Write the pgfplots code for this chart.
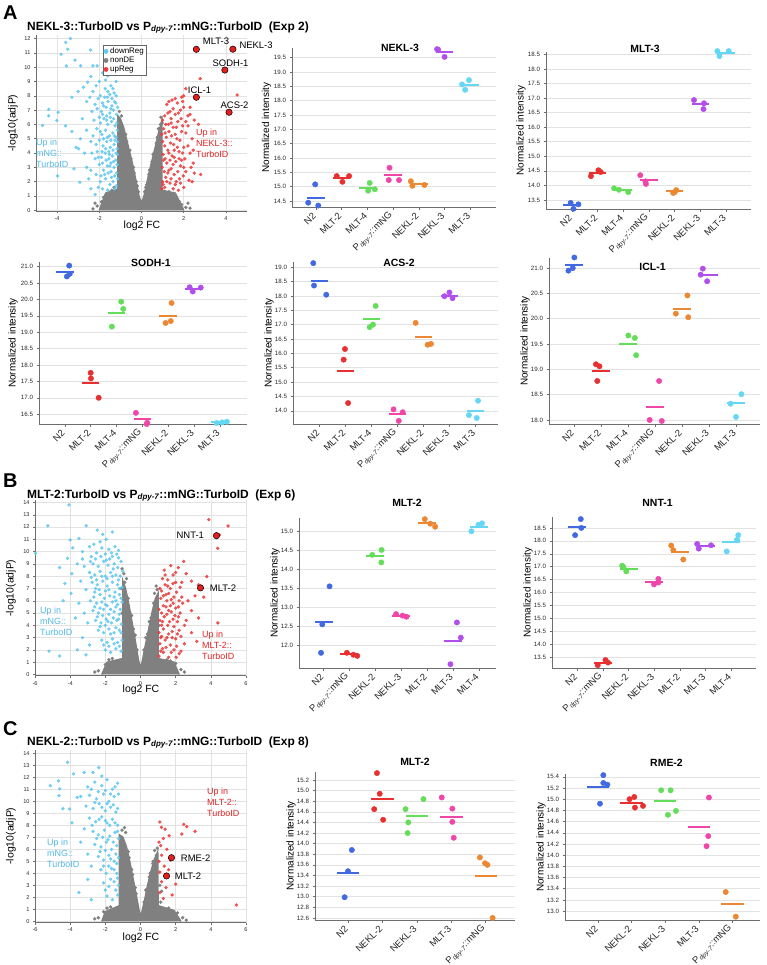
\documentclass[border=0pt]{standalone}
\usepackage{pgfplots}
\pgfplotsset{compat=1.18}
\usepackage{fontspec}
\setmainfont{Liberation Sans}
\definecolor{c1}{RGB}{65,105,225}
\definecolor{c2}{RGB}{232,48,48}
\definecolor{c3}{RGB}{100,222,90}
\definecolor{c4}{RGB}{240,70,170}
\definecolor{c5}{RGB}{236,135,50}
\definecolor{c6}{RGB}{178,78,236}
\definecolor{c7}{RGB}{100,215,245}
\definecolor{vblue}{RGB}{95,200,240}
\definecolor{vred}{RGB}{236,60,60}
\definecolor{vgray}{RGB}{128,128,128}
\definecolor{tblue}{RGB}{80,185,230}
\definecolor{tred}{RGB}{225,35,35}
\definecolor{hred}{RGB}{230,30,30}
\definecolor{gridc}{RGB}{226,226,226}
\definecolor{axc}{RGB}{110,110,110}
\newcommand{\Pdpy}{P\textsubscript{\itshape dpy-7}::mNG}
\def\mhw{8.7bp}
\newcommand{\grp}[4]{%
  \addplot[#1, only marks, mark=*, mark size=2.7bp] coordinates {#4};
  \addplot[#1, only marks, mark=-, mark size=\mhw, mark options={line width=2bp}] coordinates {(#2,#3)};}
\pgfplotsset{
  base/.style={scale only axis, anchor=south west, axis x line*=bottom, axis y line*=left,
    tick align=outside, major tick length=2.5bp, tick style={draw=axc, line width=0.5bp},
    axis line style={draw=axc, line width=0.6bp}, major grid style={draw=gridc, line width=0.5bp},
    /pgf/number format/assume math mode=true, ticklabel style={text=black!85}},
  dotax/.style={base, ymajorgrids, clip=false,
    yticklabel style={font=\fontsize{6.2}{7}\selectfont, /pgf/number format/fixed, /pgf/number format/fixed zerofill, /pgf/number format/precision=1},
    xtick={0,...,6}, xticklabel style={font=\fontsize{9.5}{10}\selectfont, rotate=45, anchor=east, xshift=-1bp, yshift=-2bp}},
  volax/.style={base, grid=major, clip mode=individual, ticklabel style={font=\fontsize{5.6}{6}\selectfont}, major tick length=2bp},
  vb/.style={only marks, mark=*, mark size=1.5bp, color=vblue, opacity=0.85, forget plot},
  vr/.style={only marks, mark=*, mark size=1.5bp, color=vred, opacity=0.85, forget plot},
  vg/.style={only marks, mark=*, mark size=1.5bp, color=vgray, forget plot},
  vpoly/.style={fill=vgray, draw=vgray, line width=1.5bp, forget plot},
  hl/.style={only marks, mark=*, mark size=3.2bp, mark options={fill=hred, draw=black, line width=0.5bp}, forget plot},
}
\begin{document}
\begin{tikzpicture}[x=1bp,y=1bp]
\useasboundingbox (0,0) rectangle (767,-965);
% ================= PANEL A =================
\begin{axis}[volax, at={(36bp,-211bp)}, width=211bp, height=176bp, xmin=-5, xmax=5, ymin=-0.05, ymax=12.25,
  xtick={-4,-2,0,2,4}, ytick={0,...,12},
  legend style={at={(0.318,0.943)}, anchor=north west, draw=black!60, line width=0.4bp, font=\fontsize{8}{9}\selectfont, inner sep=0.5bp, row sep=-2bp, cells={anchor=west}}, legend cell align=left]
\addplot[vpoly] coordinates {(-2.0,0.0) (-1.7,1.2) (-1.12,1.5) (-1.12,6.6) (-1.0,6.4) (-0.85,5.8) (-0.65,4.6) (-0.45,3.4) (-0.28,2.2) (-0.12,1.0) (0,0.5) (0.12,1.0) (0.28,2.1) (0.45,3.2) (0.65,4.4) (0.82,5.5) (0.97,6.3) (0.97,1.4) (1.6,1.2) (2.0,0.0)};
\addplot[vg] coordinates {(-1.05,6.9) (-0.95,6.6) (-0.75,5.3) (-0.55,4.2) (-0.38,3.0) (-0.2,1.7) (0.2,1.6) (0.38,2.8) (0.55,3.9) (0.75,5.1) (0.9,6.0) (-2.1,0.3) (-1.9,0.6) (-1.6,1.0) (1.7,0.8) (1.9,0.4) (2.1,0.2) (-1.4,1.4) (1.3,1.3) (-2.3,0.1) (2.3,0.15) (-0.05,0.2) (0.05,0.3)
(-1.1,6.2) (-1.0,5.6) (-0.9,5.0) (-0.7,4.8) (-0.6,3.9) (-0.5,3.6) (-0.35,2.6) (-0.25,2.0) (-0.15,1.3) (0.15,1.3) (0.25,1.8) (0.35,2.5) (0.5,3.4) (0.6,4.0) (0.7,4.7) (0.8,5.7) (0.92,6.5) (-1.8,0.9) (-2.2,0.5) (1.8,0.6) (2.2,0.5) (1.5,1.0) (-1.3,1.6) (1.1,1.3) (0.98,6.1)};
\addplot[vb] coordinates {(-3.37,12.0) (-3.59,11.73) (-3.5,11.25) (-2.41,11.2) (-3.81,10.9) (-3.15,10.5) (-3.56,10.09) (-2.88,10.1) (-2.3,10.1) (-2.1,10.1) (-2.4,9.35) (-2.55,8.95) (-1.85,9.6) (-1.7,9.1) (-2.0,9.0) (-1.2,9.0) (-1.45,8.7) (-2.75,8.6) (-3.0,8.3) (-3.3,7.9) (-2.6,7.6) (-3.95,6.85) (-4.01,6.27) (-4.69,5.94) (-4.4,7.05) (-4.4,6.6) (-3.6,5.9) (-3.3,5.5) (-2.8,6.4) (-2.9,5.0) (-3.1,4.4) (-2.98,4.3) (-3.98,2.4) (-2.92,1.96) (-2.6,3.0) (-2.4,4.8) (-2.35,6.9) (-2.5,2.2) (-3.2,2.9) (-2.2,1.1) (-2.4,1.5)
(-1.2,1.7) (-1.35,2.0) (-1.5,1.8) (-1.7,2.2) (-1.95,2.0) (-2.15,2.5) (-1.18,2.6) (-1.3,3.0) (-1.45,2.7) (-1.62,3.1) (-1.8,2.8) (-2.0,3.2) (-1.22,3.5) (-1.38,3.8) (-1.55,3.6) (-1.72,4.0) (-1.9,3.7) (-2.1,4.1) (-1.16,4.3) (-1.3,4.6) (-1.48,4.4) (-1.65,4.8) (-1.82,4.5) (-2.0,4.9) (-1.2,5.1) (-1.36,5.4) (-1.52,5.2) (-1.7,5.6) (-1.88,5.3) (-2.12,5.7) (-1.25,5.9) (-1.42,6.2) (-1.6,6.0) (-1.78,6.4) (-1.95,6.1) (-1.18,6.7) (-1.33,7.0) (-1.5,6.8) (-1.68,7.2) (-1.9,6.9) (-1.22,7.5) (-1.4,7.8) (-1.58,7.6) (-1.75,7.9) (-1.3,8.2) (-1.6,8.3) (-2.2,7.4) (-2.25,6.3) (-2.2,3.6) (-1.14,3.9) (-1.45,3.3) (-1.25,4.9) (-1.55,4.1) (-1.15,5.6) (-1.65,6.6) (-1.4,7.3) (-1.85,7.5) (-2.05,7.8) (-1.95,8.0) (-1.85,1.5) (-1.6,1.4) (-1.28,1.5) (-2.05,1.6)
(-1.13,2.2) (-1.27,2.4) (-1.42,2.3) (-1.58,2.6) (-1.75,2.5) (-1.92,2.4) (-1.15,3.2) (-1.33,3.4) (-1.5,3.1) (-1.68,3.5) (-1.85,3.3) (-2.05,3.7) (-1.2,4.0) (-1.35,4.2) (-1.52,3.9) (-1.7,4.3) (-1.87,4.1) (-2.15,4.6) (-1.14,4.8) (-1.28,5.2) (-1.45,4.9) (-1.62,5.1) (-1.8,5.0) (-1.95,5.5) (-1.17,6.1) (-1.32,6.4) (-1.48,6.5) (-1.65,6.3) (-1.85,6.7) (-2.0,6.5) (-1.13,7.2) (-1.28,7.6) (-1.45,7.1) (-1.62,7.9) (-1.8,7.3) (-2.1,7.1) (-1.2,8.0) (-1.5,8.1) (-1.72,8.5) (-1.35,8.5) (-2.3,5.2) (-2.35,4.0) (-2.4,2.8) (-2.45,7.9) (-2.6,5.6) (-2.7,4.0) (-2.3,8.3) (-2.15,8.7) (-1.6,9.4) (-1.35,9.5)};
\addplot[vr] coordinates {(2.78,9.2) (4.53,8.06) (2.1,8.5) (2.0,8.0) (1.9,7.9) (2.3,7.2) (2.3,6.7) (2.5,6.3) (2.7,6.0) (2.45,4.2) (2.8,2.5) (2.4,2.0) (0.97,1.5) (1.1,1.6) (1.5,1.5) (1.75,1.4) (2.0,1.6) (1.0,2.0) (1.15,2.3) (1.35,1.9) (1.55,2.5) (1.8,2.2) (2.1,2.7) (0.98,3.0) (1.2,3.3) (1.4,2.9) (1.62,3.4) (1.85,3.1) (2.05,3.6) (1.02,3.9) (1.25,4.2) (1.45,3.8) (1.7,4.4) (1.95,4.0) (2.2,4.5) (1.0,4.8) (1.18,5.1) (1.38,4.7) (1.6,5.3) (1.82,4.9) (2.1,5.4) (1.05,5.7) (1.28,6.0) (1.5,5.8) (1.72,6.2) (1.95,5.9) (1.1,6.6) (1.35,6.9) (1.6,6.7) (1.85,7.0) (1.2,7.4) (1.45,7.7) (1.7,7.5) (2.2,6.6) (2.35,3.0) (2.4,5.0) (1.0,6.3) (1.3,5.5) (1.55,4.2) (1.12,3.6) (1.9,3.5) (1.65,2.0) (2.25,2.1) (1.4,6.4) (0.96,5.3) (1.25,2.6)
(1.02,1.8) (1.2,2.0) (1.4,2.2) (1.6,1.8) (1.85,1.9) (1.08,2.7) (1.3,2.8) (1.5,3.2) (1.72,2.7) (1.98,2.4) (1.05,3.5) (1.35,3.5) (1.55,3.7) (1.78,3.6) (2.0,3.0) (1.1,4.5) (1.3,4.0) (1.52,4.6) (1.78,4.1) (2.0,4.4) (1.12,5.4) (1.42,5.2) (1.68,5.0) (1.9,5.5) (2.2,5.9) (1.15,6.0) (1.4,6.1) (1.65,5.8) (1.88,6.4) (2.1,6.2) (1.25,6.8) (1.5,7.1) (1.75,6.8) (2.0,7.2) (1.3,7.6) (1.6,7.8) (1.95,7.6) (2.3,4.0) (2.45,3.3) (2.5,2.6)};
\addplot[hl] coordinates {(2.6,11.25) (4.33,11.26) (3.95,9.8) (2.6,7.9) (4.15,6.85)};
\addlegendimage{only marks, mark=*, mark size=2.2bp, color=vblue}\addlegendentry{downReg}
\addlegendimage{only marks, mark=*, mark size=2.2bp, color=vgray}\addlegendentry{nonDE}
\addlegendimage{only marks, mark=*, mark size=2.2bp, color=vred}\addlegendentry{upReg}
\begin{scope}[font=\fontsize{9.5}{10}\selectfont]
\node at (axis cs:3.53,11.82) {MLT-3};
\node at (axis cs:5.43,11.54) {NEKL-3};
\node at (axis cs:4.22,10.28) {SODH-1};
\node at (axis cs:2.75,8.39) {ICL-1};
\node at (axis cs:4.41,7.34) {ACS-2};
\end{scope}
\end{axis}

\def\mhw{8.7bp}
\begin{axis}[dotax, at={(292bp,-207bp)}, width=204bp, height=159bp, xmin=-0.93, xmax=7.0, ymin=14.29, ymax=19.84,
  ytick={14.5,15,15.5,16,16.5,17,17.5,18,18.5,19,19.5}, xticklabels={N2,MLT-2,MLT-4,\Pdpy,NEKL-2,NEKL-3,MLT-3}]
\grp{c1}{0}{14.62}{(-0.3,14.44) (-0.03,15.08) (0.09,14.34)}
\grp{c2}{1}{15.31}{(0.81,15.37) (1.03,15.17) (1.29,15.37)}
\grp{c3}{2}{14.97}{(2.09,15.13) (2.03,14.86) (2.29,14.91)}
\grp{c4}{3}{15.40}{(2.86,15.66) (2.83,15.23) (3.23,15.23)}
\grp{c5}{4}{15.08}{(3.69,15.19) (3.75,15.03) (4.22,15.06)}
\grp{c6}{5}{19.71}{(4.71,19.80) (4.75,19.78) (5.0,19.53)}
\grp{c7}{6}{18.56}{(5.68,18.57) (5.95,18.72) (5.8,18.38)}
\end{axis}

\begin{axis}[dotax, at={(546bp,-209bp)}, width=205bp, height=157bp, xmin=-1.01, xmax=6.97, ymin=13.19, ymax=18.58,
  ytick={13.5,14,14.5,15,15.5,16,16.5,17,17.5,18,18.5}, xticklabels={N2,MLT-2,MLT-4,\Pdpy,NEKL-2,NEKL-3,MLT-3}]
\grp{c1}{0}{13.33}{(-0.05,13.40) (0.06,13.20) (0.25,13.35)}
\grp{c2}{1}{14.44}{(0.74,14.32) (1.03,14.52) (1.12,14.46)}
\grp{c3}{2}{13.84}{(1.64,13.90) (1.83,13.85) (2.19,13.77)}
\grp{c4}{3}{14.19}{(2.66,14.35) (2.86,14.14) (2.88,14.05)}
\grp{c5}{4}{13.80}{(3.94,13.74) (4.06,13.84) (4.0,13.77)}
\grp{c6}{5}{16.80}{(4.75,16.93) (5.14,16.82) (5.12,16.62)}
\grp{c7}{6}{18.55}{(5.66,18.61) (5.74,18.44) (6.1,18.61)}
\end{axis}

\begin{axis}[dotax, at={(39bp,-424bp)}, width=208bp, height=162bp, xmin=-1.0, xmax=7.05, ymin=16.2, ymax=21.14,
  ytick={16.5,17,17.5,18,18.5,19,19.5,20,20.5,21}, xticklabels={N2,MLT-2,MLT-4,\Pdpy,NEKL-2,NEKL-3,MLT-3}]
\grp{c1}{0}{20.85}{(0.17,21.03) (0.08,20.70) (0.19,20.78)}
\grp{c2}{1}{17.45}{(1.0,17.76) (1.01,17.59) (1.31,17.0)}
\grp{c3}{2}{19.60}{(2.18,19.93) (2.26,19.71) (1.82,19.17)}
\grp{c4}{3}{16.35}{(2.75,16.54) (3.19,16.24) (3.17,16.2)}
\grp{c5}{4}{19.50}{(4.13,19.89) (3.9,19.28) (4.1,19.34)}
\grp{c6}{5}{20.32}{(4.83,20.37) (4.95,20.24) (5.26,20.36)}
\grp{c7}{6}{16.25}{(5.88,16.23) (6.08,16.25) (6.27,16.27)}
\end{axis}

\begin{axis}[dotax, at={(293bp,-424bp)}, width=205bp, height=162bp, xmin=-1.02, xmax=6.87, ymin=13.54, ymax=19.18,
  ytick={14,14.5,15,15.5,16,16.5,17,17.5,18,18.5,19}, xticklabels={N2,MLT-2,MLT-4,\Pdpy,NEKL-2,NEKL-3,MLT-3}]
\grp{c1}{0}{18.52}{(-0.24,19.14) (-0.21,18.36) (0.26,18.04)}
\grp{c2}{1}{15.39}{(0.98,16.15) (0.93,15.78) (1.1,14.27)}
\grp{c3}{2}{17.20}{(2.16,17.65) (2.06,17.0) (1.93,16.91)}
\grp{c4}{3}{13.88}{(2.85,14.05) (3.2,13.95) (3.05,13.65)}
\grp{c5}{4}{16.58}{(3.7,17.06) (4.16,16.30) (4.29,16.33)}
\grp{c6}{5}{18.00}{(4.81,17.99) (5.0,18.12) (5.12,17.92)}
\grp{c7}{6}{13.98}{(6.1,14.35) (6.05,13.75) (5.75,13.85)}
\end{axis}

\begin{axis}[dotax, at={(549bp,-424bp)}, width=211bp, height=166bp, xmin=-0.93, xmax=6.89, ymin=17.92, ymax=21.2,
  ytick={18,18.5,19,19.5,20,20.5,21}, xticklabels={N2,MLT-2,MLT-4,\Pdpy,NEKL-2,NEKL-3,MLT-3}]
\grp{c1}{0}{21.06}{(0.01,21.21) (-0.21,20.95) (-0.05,21.0)}
\grp{c2}{1}{18.97}{(0.81,19.10) (0.94,19.06) (0.86,18.77)}
\grp{c3}{2}{19.51}{(2.01,19.67) (2.25,19.62) (2.3,19.28)}
\grp{c4}{3}{18.25}{(3.15,18.77) (2.8,18.0) (3.25,17.98)}
\grp{c5}{4}{20.20}{(4.2,20.46) (3.77,20.10) (4.23,20.03)}
\grp{c6}{5}{20.87}{(4.77,20.99) (4.69,20.87) (4.93,20.74)}
\grp{c7}{6}{18.33}{(6.2,18.51) (5.8,18.32) (6.0,18.06)}
\end{axis}

% ================= PANEL B =================
\begin{axis}[volax, at={(35bp,-675.7bp)}, width=211bp, height=175.7bp, xmin=-6, xmax=6, ymin=-0.1, ymax=14.2,
  xtick={-6,-4,...,6}, ytick={0,...,14}]
\addplot[vpoly] coordinates {(-2.2,0) (-1.9,1.0) (-1.0,1.3) (-1.0,7.6) (-0.85,7.0) (-0.65,5.6) (-0.45,4.0) (-0.28,2.6) (-0.12,1.2) (0,0.5) (0.12,1.2) (0.28,2.4) (0.45,3.6) (0.65,5.0) (0.85,6.2) (1.0,6.6) (1.0,1.3) (1.9,1.0) (2.2,0)};
\addplot[vg] coordinates {(-1.05,8.6) (-0.95,8.2) (-0.9,7.5) (-1.1,7.0) (-0.7,6.2) (-0.5,4.8) (-0.3,3.2) (0.3,3.0) (0.5,4.3) (0.75,5.8) (0.89,7.2) (0.95,6.9) (-2.4,0.3) (-2.0,0.8) (2.3,0.4) (2.0,0.9) (-1.6,1.3) (1.5,1.2) (0.8,6.6) (-0.8,7.8)
(-0.95,6.6) (-0.8,6.0) (-0.6,5.0) (-0.4,3.7) (-0.2,2.0) (0.2,2.0) (0.4,3.3) (0.6,4.6) (0.9,6.0) (-1.8,1.2) (1.7,1.1) (-2.6,0.2) (2.5,0.2) (-1.05,5.0) (1.05,4.0)};
\addplot[vb] coordinates {(-4.07,13.8) (-5.27,12.1) (-5.97,9.86) (-3.09,12.1) (-2.46,11.75) (-4.0,10.95) (-3.5,11.08) (-4.15,9.45) (-3.85,10.3) (-3.3,10.0) (-2.9,10.4) (-3.6,9.0) (-4.6,8.7) (-3.9,8.2) (-4.3,7.4) (-3.4,7.6) (-3.95,6.6) (-4.4,6.0) (-3.5,5.8) (-3.7,4.6) (-3.2,5.0) (-3.3,3.0) (-2.9,2.4) (-3.6,2.0) (-5.2,1.9) (-4.6,1.5) (-3.1,1.6)
(-2.8,9.6) (-2.5,9.9) (-2.2,10.3) (-2.0,9.8) (-1.8,10.2) (-1.6,9.6) (-2.7,9.0) (-2.4,8.8) (-2.1,9.2) (-1.85,8.9) (-1.5,9.0) (-1.3,8.7) (-2.9,8.3) (-2.6,8.1) (-2.3,8.4) (-2.0,8.0) (-1.7,8.3) (-1.4,8.1) (-1.15,8.0) (-2.75,7.5) (-2.45,7.3) (-2.15,7.6) (-1.9,7.2) (-1.6,7.5) (-1.3,7.3) (-1.05,7.1) (-2.6,6.7) (-2.3,6.5) (-2.0,6.8) (-1.75,6.4) (-1.45,6.7) (-1.2,6.5) (-2.85,6.0) (-2.5,5.8) (-2.2,5.9) (-1.9,5.6) (-1.6,5.9) (-1.3,5.7) (-1.05,5.9) (-2.7,5.2) (-2.4,5.0) (-2.1,5.3) (-1.8,4.9) (-1.5,5.1) (-1.2,4.9) (-2.55,4.4) (-2.25,4.2) (-1.95,4.5) (-1.65,4.2) (-1.35,4.4) (-1.08,4.1) (-2.4,3.6) (-2.1,3.4) (-1.8,3.7) (-1.5,3.4) (-1.2,3.6) (-2.2,2.8) (-1.9,2.6) (-1.6,2.9) (-1.3,2.6) (-1.05,2.8) (-2.0,2.0) (-1.7,1.8) (-1.4,2.1) (-1.1,1.9) (-1.25,9.5) (-1.1,9.2) (-2.3,10.8) (-1.95,11.0) (-1.45,10.4) (-2.65,10.6) (-1.6,11.6) (-2.15,11.4) (-1.25,10.1) (-1.75,9.4) (-2.55,7.0) (-1.1,6.2) (-1.4,6.0) (-1.0,8.4) (-1.55,8.6)
(-2.85,9.2) (-2.55,9.4) (-2.25,9.6) (-1.95,9.3) (-1.65,9.9) (-1.35,9.8) (-2.8,7.9) (-2.5,7.7) (-2.2,8.0) (-1.9,7.8) (-1.6,8.0) (-1.25,7.7) (-2.65,6.3) (-2.35,6.9) (-2.05,6.2) (-1.8,6.9) (-1.5,6.3) (-1.2,7.0) (-2.6,5.5) (-2.3,5.4) (-2.0,5.7) (-1.7,5.3) (-1.4,5.5) (-1.15,5.3) (-2.45,4.7) (-2.15,4.8) (-1.85,4.3) (-1.55,4.6) (-1.25,4.5) (-2.3,3.9) (-2.0,4.0) (-1.7,3.3) (-1.4,3.8) (-1.1,3.4) (-2.1,2.4) (-1.8,2.3) (-1.5,2.5) (-1.2,2.3) (-3.2,8.8) (-3.1,6.9) (-3.0,4.2) (-3.3,9.4)};
\addplot[vr] coordinates {(3.88,12.6) (4.98,12.09) (4.49,11.36) (4.39,10.27) (2.46,9.21) (1.72,8.86) (2.15,8.7) (3.77,7.97) (2.6,8.2) (3.3,7.3) (2.9,7.6) (1.4,8.1) (2.35,7.5) (3.1,6.4) (3.6,6.3) (2.7,6.0) (2.9,5.2) (3.3,4.6) (2.6,4.4) (2.9,3.4) (3.2,2.7) (2.5,2.5) (4.4,4.2) (2.03,1.4) (2.3,1.9)
(1.05,1.5) (1.3,1.8) (1.6,1.4) (1.9,2.0) (2.2,1.7) (1.1,2.5) (1.4,2.8) (1.7,2.4) (2.0,2.9) (2.3,3.1) (1.05,3.4) (1.3,3.7) (1.6,3.3) (1.9,3.9) (2.2,3.6) (1.1,4.4) (1.35,4.7) (1.65,4.3) (1.95,4.8) (2.25,5.0) (1.05,5.3) (1.3,5.6) (1.6,5.2) (1.85,5.8) (2.15,5.5) (1.15,6.2) (1.45,6.5) (1.75,6.1) (2.05,6.7) (2.35,6.3) (1.1,7.0) (1.4,7.3) (1.7,7.0) (2.0,7.5) (1.25,7.8) (1.55,7.7) (1.85,8.1) (1.2,4.0) (1.5,6.0) (1.8,3.0) (1.15,3.0) (1.7,5.6) (2.1,4.3) (1.25,2.1) (1.5,4.9)
(1.15,1.9) (1.45,2.2) (1.75,1.8) (2.05,2.3) (1.2,3.1) (1.5,3.0) (1.8,3.5) (2.1,3.3) (1.25,4.3) (1.55,4.0) (1.85,4.5) (2.15,4.7) (1.2,5.0) (1.45,5.5) (1.75,5.1) (2.0,5.4) (1.3,6.4) (1.6,6.6) (1.9,6.3) (2.2,6.0) (1.2,6.8) (1.55,7.2) (1.85,7.4) (2.25,7.1) (1.35,8.5) (2.0,8.3) (2.4,5.8) (2.5,4.0)};
\addplot[hl] coordinates {(4.32,11.3) (3.41,7.05)};
\node[anchor=east, font=\fontsize{9.5}{10}\selectfont] at (axis cs:3.81,11.31) {NNT-1};
\node[anchor=west, font=\fontsize{9.5}{10}\selectfont] at (axis cs:3.75,7.05) {MLT-2};
\end{axis}

\def\mhw{9bp}
\begin{axis}[dotax, at={(299bp,-668bp)}, width=197bp, height=150bp, xmin=-0.95, xmax=6.66, ymin=11.4, ymax=15.35,
  ytick={12,12.5,13,13.5,14,14.5,15}, xticklabels={N2,\Pdpy,NEKL-2,NEKL-3,MLT-2,MLT-3,MLT-4}]
\grp{c1}{0}{12.62}{(0.23,13.55) (-0.05,12.55) (-0.1,11.8)}
\grp{c2}{1}{11.77}{(0.9,11.8) (1.15,11.75) (1.3,11.72)}
\grp{c3}{2}{14.36}{(1.88,14.38) (2.24,14.51) (2.23,14.18)}
\grp{c4}{3}{12.78}{(2.8,12.82) (3.05,12.78) (3.2,12.75)}
\grp{c5}{4}{15.22}{(3.91,15.32) (4.12,15.20) (4.31,15.12)}
\grp{c6}{5}{12.10}{(5.15,12.6) (5.3,12.2) (4.9,11.5)}
\grp{c7}{6}{15.12}{(5.71,15.0) (5.98,15.17) (6.12,15.21)}
\end{axis}

\begin{axis}[dotax, at={(552bp,-668bp)}, width=204bp, height=151bp, xmin=-0.98, xmax=6.96, ymin=13.09, ymax=18.92,
  ytick={13.5,14,14.5,15,15.5,16,16.5,17,17.5,18,18.5}, xticklabels={N2,\Pdpy,NEKL-2,NEKL-3,MLT-2,MLT-3,MLT-4}]
\grp{c1}{0}{18.53}{(0.14,18.84) (0.16,18.5) (-0.08,18.22)}
\grp{c2}{1}{13.30}{(1.1,13.4) (0.8,13.2) (1.2,13.3)}
\grp{c3}{2}{16.93}{(1.75,17.04) (1.91,16.82) (1.8,16.98)}
\grp{c4}{3}{16.41}{(3.16,16.53) (2.99,16.32) (3.16,16.39)}
\grp{c5}{4}{17.57}{(3.66,17.82) (3.74,17.64) (4.13,17.28)}
\grp{c6}{5}{17.82}{(4.67,17.88) (4.73,17.70) (5.21,17.83)}
\grp{c7}{6}{17.95}{(6.27,18.22) (6.22,18.04) (5.82,17.59)}
\end{axis}

% ================= PANEL C =================
\begin{axis}[volax, at={(35bp,-922.5bp)}, width=211bp, height=172.5bp, xmin=-6, xmax=6, ymin=-0.1, ymax=14.27,
  xtick={-6,-4,...,6}, ytick={0,...,14}]
\addplot[vpoly] coordinates {(-2.2,0) (-2.0,0.8) (-1.2,1.3) (-1.2,7.2) (-1.0,7.0) (-0.8,6.2) (-0.6,4.9) (-0.4,3.4) (-0.22,2.0) (-0.08,0.9) (0,0.4) (0.1,0.9) (0.25,1.9) (0.42,3.1) (0.6,4.2) (0.8,5.2) (0.98,5.8) (1.0,1.3) (1.9,0.9) (2.3,0)};
\addplot[vg] coordinates {(-0.85,7.4) (-0.91,7.8) (-1.05,7.6) (-0.7,5.8) (-0.5,4.3) (-0.3,2.8) (0.3,2.6) (0.5,3.7) (0.7,4.8) (0.8,5.9) (0.95,6.1) (-2.4,0.3) (-2.1,0.8) (2.4,0.3) (2.1,0.7) (-1.7,1.2) (1.6,1.1) (1.2,2.5)
(-1.15,6.6) (-0.9,6.4) (-0.65,5.3) (-0.45,3.9) (-0.25,2.3) (0.2,1.6) (0.38,2.7) (0.55,4.0) (0.72,5.0) (0.9,5.5) (-1.9,1.1) (1.8,0.9) (-2.6,0.2) (2.6,0.1) (1.1,3.0) (1.15,1.6)};
\addplot[vb] coordinates {(-4.15,13.25) (-5.13,11.3) (-4.66,11.7) (-4.59,11.03) (-4.64,10.47) (-4.41,9.38) (-4.03,9.36) (-3.81,12.28) (-3.6,10.33) (-3.4,10.4) (-3.2,12.4) (-2.7,12.4) (-2.37,12.8) (-2.2,12.1) (-3.9,8.2) (-3.5,2.4) (-3.0,3.5) (-2.8,1.8)
(-3.0,11.2) (-2.6,11.6) (-2.2,11.3) (-1.9,11.8) (-1.6,11.0) (-2.9,10.5) (-2.5,10.2) (-2.1,10.6) (-1.8,10.0) (-1.5,10.4) (-3.1,9.6) (-2.7,9.4) (-2.35,9.8) (-2.0,9.2) (-1.7,9.5) (-1.4,9.1) (-2.9,8.6) (-2.55,8.3) (-2.2,8.7) (-1.9,8.2) (-1.6,8.5) (-1.3,8.0) (-2.7,7.5) (-2.4,7.2) (-2.05,7.6) (-1.75,7.1) (-1.45,7.4) (-1.25,6.9) (-2.6,6.4) (-2.25,6.2) (-1.95,6.6) (-1.65,6.0) (-1.35,6.3) (-2.4,5.4) (-2.1,5.1) (-1.8,5.5) (-1.5,5.0) (-1.25,5.3) (-2.25,4.3) (-1.95,4.0) (-1.65,4.4) (-1.35,4.0) (-2.1,3.2) (-1.8,2.9) (-1.5,3.3) (-1.25,3.0) (-1.9,2.1) (-1.6,1.8) (-1.3,2.2) (-3.2,7.7) (-3.4,6.6) (-3.0,5.6) (-2.8,4.6) (-1.3,11.5) (-1.25,10.6) (-1.35,4.8)
(-2.8,11.0) (-2.4,10.8) (-2.0,10.9) (-1.7,10.6) (-1.45,11.2) (-2.6,9.9) (-2.2,9.5) (-1.9,9.8) (-1.55,9.7) (-1.3,9.4) (-2.75,8.0) (-2.35,8.5) (-2.0,8.4) (-1.75,8.0) (-1.45,8.2) (-2.5,6.9) (-2.15,7.0) (-1.85,6.8) (-1.55,6.6) (-1.3,7.5) (-2.3,5.8) (-2.0,5.9) (-1.7,5.2) (-1.4,5.6) (-2.1,4.6) (-1.8,4.6) (-1.5,4.3) (-1.3,3.6) (-1.7,3.5) (-2.0,2.6) (-1.4,2.6)};
\addplot[vr] coordinates {(1.1,8.27) (1.19,7.83) (1.4,7.67) (1.63,7.13) (2.46,8.08) (2.63,7.89) (3.1,7.5) (2.35,7.27) (1.3,6.9) (1.15,6.3) (1.5,6.0) (1.2,5.5) (1.05,5.0) (1.35,4.6) (1.1,4.1) (1.6,4.3) (1.2,3.3) (1.45,2.8) (1.1,2.4) (1.3,1.9) (1.8,2.2) (2.0,3.1) (5.45,1.36) (1.7,5.1) (1.05,6.6)};
\addplot[hl] coordinates {(1.76,5.3) (1.48,3.78)};
\node[anchor=west, font=\fontsize{9.5}{10}\selectfont] at (axis cs:2.1,5.3) {RME-2};
\node[anchor=west, font=\fontsize{9.5}{10}\selectfont] at (axis cs:1.76,3.78) {MLT-2};
\end{axis}

\def\mhw{11.2bp}
\begin{axis}[dotax, at={(315bp,-920bp)}, width=200bp, height=148bp, xmin=-0.96, xmax=4.85, ymin=12.56, ymax=15.35,
  ytick={12.6,12.8,13.0,13.2,13.4,13.6,13.8,14.0,14.2,14.4,14.6,14.8,15.0,15.2}, xtick={0,...,4}, xticklabels={N2,NEKL-2,NEKL-3,MLT-3,\Pdpy}]
\grp{c1}{0}{13.45}{(0.11,13.88) (0.0,13.48) (-0.1,12.99)}
\grp{c2}{1}{14.84}{(0.84,15.33) (0.92,14.94) (0.76,14.65) (1.02,14.45)}
\grp{c3}{2}{14.52}{(1.67,14.65) (1.75,14.40) (1.73,14.20) (2.19,14.84)}
\grp{c4}{3}{14.51}{(2.72,14.87) (3.03,14.66) (3.03,14.41) (3.07,14.11)}
\grp{c5}{4}{13.39}{(3.83,13.74) (3.98,13.63) (4.05,13.6) (4.2,12.6)}
\end{axis}

\begin{axis}[dotax, at={(565bp,-920bp)}, width=195bp, height=146bp, xmin=-0.98, xmax=4.82, ymin=12.84, ymax=15.45,
  ytick={13.0,13.2,13.4,13.6,13.8,14.0,14.2,14.4,14.6,14.8,15.0,15.2,15.4}, xtick={0,...,4}, xticklabels={N2,NEKL-2,NEKL-3,MLT-3,\Pdpy}]
\grp{c1}{0}{15.22}{(0.16,15.43) (0.16,15.29) (0.28,15.26) (0.06,14.92)}
\grp{c2}{1}{14.94}{(0.94,15.0) (1.08,15.04) (1.1,14.85) (1.34,14.88)}
\grp{c3}{2}{14.96}{(1.88,15.16) (2.16,15.16) (2.32,14.79) (2.08,14.72)}
\grp{c4}{3}{14.51}{(3.3,15.03) (3.28,14.34) (3.23,14.16)}
\grp{c5}{4}{13.12}{(3.8,13.34) (4.1,12.9)}
\end{axis}

% ================= TEXT =================
\begin{scope}[font=\bfseries\fontsize{20}{22}\selectfont]
\node[anchor=base west, inner sep=0] at (3,-19) {A};
\node[anchor=base west, inner sep=0] at (3,-487) {B};
\node[anchor=base west, inner sep=0] at (3,-735) {C};
\end{scope}
\begin{scope}[font=\bfseries\fontsize{12}{14}\selectfont]
\node[anchor=base west, inner sep=0] at (27,-30) {NEKL-3::TurboID vs P\textsubscript{\itshape dpy-7}::mNG::TurboID\ \ (Exp 2)};
\node[anchor=base west, inner sep=0] at (27,-498) {MLT-2:TurboID vs P\textsubscript{\itshape dpy-7}::mNG::TurboID\ \ (Exp 6)};
\node[anchor=base west, inner sep=0] at (27,-745) {NEKL-2::TurboID vs P\textsubscript{\itshape dpy-7}::mNG::TurboID\ \ (Exp 8)};
\end{scope}
\begin{scope}[font=\bfseries\fontsize{10.5}{12}\selectfont]
\node[anchor=base] at (400,-51.7) {NEKL-3};
\node[anchor=base] at (645,-52) {MLT-3};
\node[anchor=base] at (151,-266) {SODH-1};
\node[anchor=base] at (399,-266) {ACS-2};
\node[anchor=base] at (652.5,-270.7) {ICL-1};
\node[anchor=base] at (407,-506) {MLT-2};
\node[anchor=base] at (657.5,-506) {NNT-1};
\node[anchor=base] at (415,-765) {MLT-2};
\node[anchor=base] at (666.5,-766) {RME-2};
\end{scope}
\begin{scope}[font=\fontsize{10}{12}\selectfont, inner sep=0]
\node[rotate=90] at (266.5,-127.5) {Normalized intensity};
\node[rotate=90] at (521,-130.5) {Normalized intensity};
\node[rotate=90] at (13,-343) {Normalized intensity};
\node[rotate=90] at (269,-343) {Normalized intensity};
\node[rotate=90] at (525,-341) {Normalized intensity};
\node[rotate=90] at (275,-593) {Normalized intensity};
\node[rotate=90] at (528,-592.5) {Normalized intensity};
\node[rotate=90] at (291,-846) {Normalized intensity};
\node[rotate=90] at (541,-847) {Normalized intensity};
\end{scope}
\begin{scope}[font=\fontsize{10.5}{12}\selectfont]
\node[rotate=90] at (13,-123) {-log10(adjP)};
\node[rotate=90] at (11,-588) {-log10(adjP)};
\node[rotate=90] at (11,-836) {-log10(adjP)};
\node at (142,-226) {log2 FC};
\node at (141,-690) {log2 FC};
\node at (141,-938) {log2 FC};
\end{scope}
\begin{scope}[font=\fontsize{9}{11}\selectfont, inner sep=0, align=left]
\node[anchor=north west, text=tblue] at (36,-139) {Up in\\mNG::\\TurboID};
\node[anchor=north west, text=tred] at (196,-129) {Up in\\NEKL-3::\\TurboID};
\node[anchor=north west, text=tblue] at (40,-607) {Up in\\mNG::\\TurboID};
\node[anchor=north west, text=tred] at (202,-631) {Up in\\MLT-2::\\TurboID};
\node[anchor=north west, text=tblue] at (47,-839) {Up in\\mNG::\\TurboID};
\node[anchor=north west, text=tred] at (207,-788) {Up in\\MLT-2::\\TurboID};
\end{scope}
\end{tikzpicture}
\end{document}
